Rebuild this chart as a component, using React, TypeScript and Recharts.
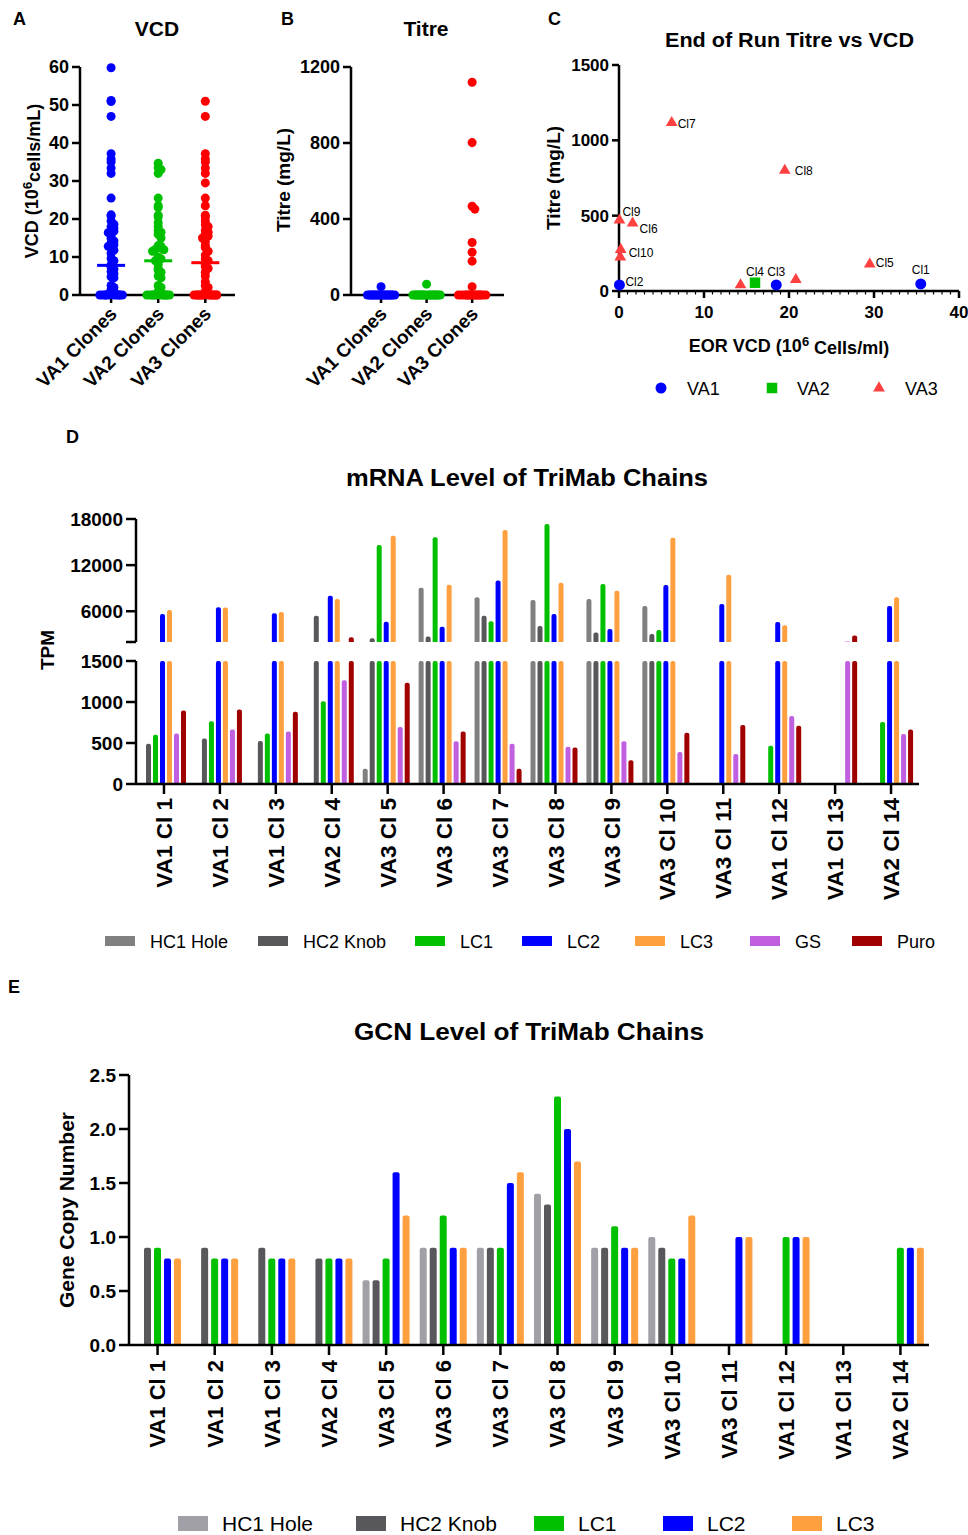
import React from 'react';
import {
  ScatterChart, Scatter, XAxis, YAxis, ZAxis,
  BarChart, Bar, Symbols,
} from 'recharts';

const FONT = '"Liberation Sans", Arial, Helvetica, sans-serif';

// ---------- A / B : clone strip plots ----------
const cloneGroups = ['VA1 Clones', 'VA2 Clones', 'VA3 Clones'];
const groupColors = ['#0000ff', '#00c000', '#ff0000'];

const vcdVA1 = [59.8, 51.2, 50.9, 47, 37.2, 35.8, 35, 33.4, 32, 25.5, 21.1, 20.8, 19.5, 18.6, 18, 17.6, 17.1, 16.8, 16.4, 15.6, 14.9, 14.2, 13.6, 13.2, 12.8, 12.4, 11.8, 11, 9.6, 9, 8, 7.4, 6.8, 6.2, 5.6, 4.8, 4.5, 2.5, 2, 1.4, 0.8, 0.5, 0.3, 0.2, 0.1, 0, 0, 0, 0, 0, 0, 0, 0, 0, 0];
const vcdVA2 = [34.7, 33.5, 33, 32, 25.5, 23.5, 23, 21, 20.5, 19, 18, 17, 16.5, 16, 15, 13, 12.8, 12.5, 12.4, 12, 11.9, 11.5, 10, 9.5, 9, 8, 7, 6.5, 6, 5, 4.5, 2.5, 2, 1, 0.5, 0.3, 0, 0, 0, 0, 0, 0, 0, 0, 0, 0, 0, 0];
const vcdVA3 = [51, 47, 37.2, 35.8, 35, 33.4, 32, 29.5, 25.5, 23.5, 21, 20.5, 19.5, 18.5, 18, 17, 16.5, 16, 15.5, 15, 14, 13, 12.5, 11.5, 10.5, 9.5, 9, 8, 7.5, 7, 6, 5, 3.5, 2.5, 2, 1, 0.5, 0.3, 0, 0, 0, 0, 0, 0, 0, 0, 0, 0, 0, 0, 0, 0];
const vcdMedians = [7.8, 9.0, 8.5];

const titreVA1 = [44, 0, 0, 0, 0, 0, 0, 0, 0, 0, 0, 0, 0, 0, 0, 0, 0, 0, 0, 0];
const titreVA2 = [57, 0, 0, 0, 0, 0, 0, 0, 0, 0, 0, 0, 0, 0, 0, 0, 0, 0, 0, 0];
const titreVA3 = [1120, 802, 467, 452, 276, 225, 178, 44, 0, 0, 0, 0, 0, 0, 0, 0, 0, 0, 0, 0, 0, 0, 0, 0];
const titreMedians = [0, 0, 0];

// ---------- C : end of run titre vs VCD ----------
const eorVA1Labels = ['Cl1', 'Cl2', 'Cl3'];
const eorVA1Vcd = [35.5, 0.05, 18.5];
const eorVA1Titre = [47, 40, 40];
const eorVA2Labels = ['Cl4'];
const eorVA2Vcd = [16];
const eorVA2Titre = [55];
const eorVA3Labels = ['Cl5', 'Cl6', 'Cl7', 'Cl8', 'Cl9', 'Cl10', '', '', ''];
const eorVA3Vcd = [29.5, 1.6, 6.2, 19.5, 0.05, 0.2, 0.15, 14.3, 20.8];
const eorVA3Titre = [178, 450, 1117, 800, 470, 275, 225, 40, 75];

// ---------- D / E : per-clone chains ----------
const clones = ['VA1 Cl 1', 'VA1 Cl 2', 'VA1 Cl 3', 'VA2 Cl 4', 'VA3 Cl 5', 'VA3 Cl 6', 'VA3 Cl 7', 'VA3 Cl 8', 'VA3 Cl 9', 'VA3 Cl 10', 'VA3 Cl 11', 'VA1 Cl 12', 'VA1 Cl 13', 'VA2 Cl 14'];

const mrnaSeries = ['HC1 Hole', 'HC2 Knob', 'LC1', 'LC2', 'LC3', 'GS', 'Puro'];
const mrnaColors = ['#808080', '#58585c', '#00c000', '#0000ff', '#ffa040', '#c060e0', '#a00000'];
const mrnaHC1 = [0, 0, 0, 0, 185, 9070, 7820, 7470, 7600, 6690, 0, 0, 0, 0];
const mrnaHC2 = [490, 555, 525, 5430, 2490, 2700, 5430, 4090, 3220, 3050, 0, 0, 0, 0];
const mrnaLC1 = [600, 765, 615, 1010, 14620, 15620, 4700, 17350, 9550, 3570, 0, 465, 0, 755];
const mrnaLC2 = [5650, 6520, 5740, 8030, 4650, 4000, 10000, 5650, 3700, 9420, 6950, 4610, 0, 6690];
const mrnaLC3 = [6170, 6500, 5910, 7600, 15830, 9460, 16570, 9720, 8680, 15570, 10760, 4180, 0, 7820];
const mrnaGS = [615, 665, 640, 1265, 695, 520, 490, 455, 520, 390, 365, 830, 2080, 610];
const mrnaPuro = [895, 910, 880, 2620, 1235, 640, 185, 445, 290, 625, 720, 710, 2830, 665];
const mrnaValues = [mrnaHC1, mrnaHC2, mrnaLC1, mrnaLC2, mrnaLC3, mrnaGS, mrnaPuro];
const BREAK_LOW = 1500;
const BREAK_HIGH = 2000;

const gcnSeries = ['HC1 Hole', 'HC2 Knob', 'LC1', 'LC2', 'LC3'];
const gcnColors = ['#a0a0a6', '#58585c', '#00c000', '#0000ff', '#ffa040'];
const gcnHC1 = [0, 0, 0, 0, 0.6, 0.9, 0.9, 1.4, 0.9, 1.0, 0, 0, 0, 0];
const gcnHC2 = [0.9, 0.9, 0.9, 0.8, 0.6, 0.9, 0.9, 1.3, 0.9, 0.9, 0, 0, 0, 0];
const gcnLC1 = [0.9, 0.8, 0.8, 0.8, 0.8, 1.2, 0.9, 2.3, 1.1, 0.8, 0, 1.0, 0, 0.9];
const gcnLC2 = [0.8, 0.8, 0.8, 0.8, 1.6, 0.9, 1.5, 2.0, 0.9, 0.8, 1.0, 1.0, 0, 0.9];
const gcnLC3 = [0.8, 0.8, 0.8, 0.8, 1.2, 0.9, 1.6, 1.7, 0.9, 1.2, 1.0, 1.0, 0, 0.9];
const gcnValues = [gcnHC1, gcnHC2, gcnLC1, gcnLC2, gcnLC3];

// ---------- helpers ----------
const axisLine = { stroke: '#000', strokeWidth: 2.5 };
const tickLine = { stroke: '#000', strokeWidth: 2.5 };
const tickFont = (fs: number) => ({ fill: '#000', fontSize: fs, fontWeight: 700, fontFamily: FONT });

// GraphPad-like spreading of tied points
function stripPoints(values: number[], group: number, bin: number, step: number, maxK: number) {
  const seen: Record<number, number> = {};
  return values.map((v) => {
    const k = Math.round(v / bin);
    const n = seen[k] ?? 0;
    seen[k] = n + 1;
    const ring = n === 0 ? 0 : ((Math.ceil(n / 2) - 1) % maxK) + 1;
    const side = n % 2 === 1 ? 1 : -1;
    return { x: group + side * ring * step, y: v };
  });
}

const DiagTick = (props: any) => {
  const { x, y, payload } = props;
  return (
    <text
      transform={`translate(${x + 7},${y + 12}) rotate(-45)`}
      textAnchor="end"
      fontSize={19}
      fontWeight={700}
      fontFamily={FONT}
      fill="#000"
    >
      {cloneGroups[payload.value]}
    </text>
  );
};

const VertTick = (fs: number) => (props: any) => {
  const { x, y, payload } = props;
  return (
    <text
      transform={`translate(${x},${y}) rotate(-90)`}
      textAnchor="end"
      dy="0.36em"
      fontSize={fs}
      fontWeight={700}
      fontFamily={FONT}
      fill="#000"
    >
      {payload.value}
    </text>
  );
};

const MinorTick = (props: any) => {
  const { x, y, payload } = props;
  const major = payload.value % 10 === 0;
  return (
    <g>
      <line x1={x} x2={x} y1={y} y2={y + (major ? 7 : 3.5)} stroke="#000" strokeWidth={major ? 2.5 : 1.2} />
      {major && (
        <text x={x} y={y + 27} textAnchor="middle" fontSize={17} fontWeight={700} fontFamily={FONT} fill="#000">
          {payload.value}
        </text>
      )}
    </g>
  );
};

const medianShape = (color: string) => (props: any) => {
  const { cx, cy } = props;
  return <line x1={cx - 14} x2={cx + 14} y1={cy} y2={cy} stroke={color} strokeWidth={3} />;
};

function StripChart(props: {
  left: number; width: number; yWidth: number; right: number;
  groups: number[][]; medians: number[]; domain: [number, number]; ticks: number[];
  xDomain: [number, number]; bin: number; step: number; maxK: number;
}) {
  const { left, width, yWidth, right, groups, medians, domain, ticks, xDomain, bin, step, maxK } = props;
  return (
    <ScatterChart
      width={width}
      height={400}
      margin={{ top: 67, right, bottom: 5, left: 0 }}
      style={{ position: 'absolute', left, top: 0 }}
    >
      <XAxis
        type="number"
        dataKey="x"
        domain={xDomain}
        ticks={[0, 1, 2]}
        interval={0}
        height={100}
        axisLine={axisLine}
        tickLine={tickLine}
        tickSize={8}
        tickMargin={0}
        tick={DiagTick}
      />
      <YAxis
        type="number"
        dataKey="y"
        domain={domain}
        ticks={ticks}
        interval={0}
        width={yWidth}
        axisLine={axisLine}
        tickLine={tickLine}
        tickSize={8}
        tickMargin={3}
        tick={tickFont(18)}
      />
      <ZAxis range={[24, 24]} />
      {groups.map((vals, g) => (
        <Scatter
          key={g}
          data={stripPoints(vals, g, bin, step, maxK)}
          fill={groupColors[g]}
          isAnimationActive={false}
        />
      ))}
      {medians.map((m, g) => (
        <Scatter
          key={`m${g}`}
          data={[{ x: g, y: m }]}
          shape={medianShape(groupColors[g])}
          isAnimationActive={false}
        />
      ))}
    </ScatterChart>
  );
}

// label placement (layout only)
const labelOffset: Record<string, [number, number, 'start' | 'middle']> = {
  Cl1: [0, -14, 'middle'],
  Cl2: [6, -3, 'start'],
  Cl3: [0, -13, 'middle'],
  Cl4: [0, -11, 'middle'],
  Cl5: [6, -1, 'start'],
  Cl6: [7, 6, 'start'],
  Cl7: [6, 1, 'start'],
  Cl8: [10, 1, 'start'],
  Cl9: [3, -8, 'start'],
  Cl10: [8, 3, 'start'],
};

const eorShape = (type: 'circle' | 'square' | 'triangle', size: number, color: string) => (props: any) => {
  const { cx, cy, payload } = props;
  const off = labelOffset[payload.label];
  return (
    <g>
      <Symbols cx={cx} cy={cy} type={type} size={size} fill={color} />
      {payload.label && off && (
        <text
          x={cx + off[0]}
          y={cy + off[1]}
          textAnchor={off[2]}
          dominantBaseline="central"
          fontSize={12}
          fontFamily={FONT}
          fill="#000"
        >
          {payload.label}
        </text>
      )}
    </g>
  );
};

const zip = (labels: string[], xs: number[], ys: number[]) =>
  labels.map((label, i) => ({ label, x: xs[i], y: ys[i] }));

const mrnaRows = clones.map((clone, i) => {
  const hi: Record<string, any> = { clone };
  const lo: Record<string, any> = { clone };
  mrnaSeries.forEach((s, j) => {
    const v = mrnaValues[j][i];
    hi[s] = v >= BREAK_HIGH ? v : null;
    lo[s] = v > 0 ? Math.min(v, BREAK_LOW) : null;
  });
  return { hi, lo };
});
const mrnaHigh = mrnaRows.map((r) => r.hi);
const mrnaLow = mrnaRows.map((r) => r.lo);

const gcnRows = clones.map((clone, i) => {
  const row: Record<string, any> = { clone };
  gcnSeries.forEach((s, j) => {
    const v = gcnValues[j][i];
    row[s] = v > 0 ? v : null;
  });
  return row;
});

const bold = { fontWeight: 700, fontFamily: FONT, fill: '#000' } as const;

function Rot({ x, y, fs, children }: { x: number; y: number; fs: number; children: React.ReactNode }) {
  return (
    <text transform={`translate(${x},${y}) rotate(-90)`} textAnchor="middle" fontSize={fs} {...bold}>
      {children}
    </text>
  );
}

export default function App() {
  const mrnaLegendX = [105, 258, 415, 522, 635, 750, 852];
  const gcnLegendX = [178, 356, 534, 663, 792];
  return (
    <div style={{ position: 'absolute', left: 0, top: 0, width: 968, height: 1535, background: '#fff', fontFamily: FONT }}>
      {/* A */}
      <StripChart
        left={0} width={250} yWidth={80} right={15}
        groups={[vcdVA1, vcdVA2, vcdVA3]} medians={vcdMedians}
        domain={[0, 60]} ticks={[0, 10, 20, 30, 40, 50, 60]}
        xDomain={[-0.66, 2.63]} bin={1.2} step={0.06} maxK={4}
      />
      {/* B */}
      <StripChart
        left={260} width={260} yWidth={91} right={16}
        groups={[titreVA1, titreVA2, titreVA3]} medians={titreMedians}
        domain={[0, 1200]} ticks={[0, 400, 800, 1200]}
        xDomain={[-0.66, 2.7]} bin={20} step={0.06} maxK={5}
      />
      {/* C */}
      <ScatterChart
        width={428}
        height={370}
        margin={{ top: 65, right: 9, bottom: 5, left: 0 }}
        style={{ position: 'absolute', left: 540, top: 0 }}
      >
        <XAxis
          type="number"
          dataKey="x"
          domain={[0, 40]}
          ticks={Array.from({ length: 41 }, (_, i) => i)}
          interval={0}
          height={74}
          axisLine={axisLine}
          tickLine={false}
          tickSize={0}
          tickMargin={0}
          tick={MinorTick}
        />
        <YAxis
          type="number"
          dataKey="y"
          domain={[0, 1500]}
          ticks={[0, 500, 1000, 1500]}
          interval={0}
          width={79}
          axisLine={axisLine}
          tickLine={tickLine}
          tickSize={7}
          tickMargin={3}
          tick={tickFont(17)}
        />
        <Scatter data={zip(eorVA3Labels, eorVA3Vcd, eorVA3Titre)} shape={eorShape('triangle', 60, '#ff4040')} isAnimationActive={false} />
        <Scatter data={zip(eorVA2Labels, eorVA2Vcd, eorVA2Titre)} shape={eorShape('square', 110, '#00c000')} isAnimationActive={false} />
        <Scatter data={zip(eorVA1Labels, eorVA1Vcd, eorVA1Titre)} shape={eorShape('circle', 95, '#0000ff')} isAnimationActive={false} />
      </ScatterChart>

      {/* D upper */}
      <BarChart
        width={968}
        height={138}
        data={mrnaHigh}
        margin={{ top: 10, right: 49, bottom: 5, left: 0 }}
        barCategoryGap={3}
        barGap={2}
        style={{ position: 'absolute', left: 0, top: 509 }}
      >
        <XAxis dataKey="clone" hide />
        <YAxis
          type="number"
          domain={[BREAK_HIGH, 18000]}
          ticks={[BREAK_HIGH, 6000, 12000, 18000]}
          tickFormatter={(v: number) => (v === BREAK_HIGH ? '' : String(v))}
          interval={0}
          allowDataOverflow
          width={136}
          axisLine={axisLine}
          tickLine={tickLine}
          tickSize={10}
          tickMargin={3}
          tick={tickFont(19)}
        />
        {mrnaSeries.map((s, j) => (
          <Bar key={s} dataKey={s} fill={mrnaColors[j]} radius={[2, 2, 0, 0]} isAnimationActive={false} />
        ))}
      </BarChart>
      {/* D lower */}
      <BarChart
        width={968}
        height={263}
        data={mrnaLow}
        margin={{ top: 10, right: 49, bottom: 5, left: 0 }}
        barCategoryGap={3}
        barGap={2}
        style={{ position: 'absolute', left: 0, top: 651 }}
      >
        <XAxis
          dataKey="clone"
          interval={0}
          height={125}
          axisLine={axisLine}
          tickLine={tickLine}
          tickSize={10}
          tickMargin={4}
          tick={VertTick(22.5)}
        />
        <YAxis
          type="number"
          domain={[0, BREAK_LOW]}
          ticks={[0, 500, 1000, 1500]}
          interval={0}
          allowDataOverflow
          width={136}
          axisLine={axisLine}
          tickLine={tickLine}
          tickSize={10}
          tickMargin={3}
          tick={tickFont(19)}
        />
        {mrnaSeries.map((s, j) => (
          <Bar key={s} dataKey={s} fill={mrnaColors[j]} radius={[2, 2, 0, 0]} isAnimationActive={false} />
        ))}
      </BarChart>

      {/* E */}
      <BarChart
        width={968}
        height={420}
        data={gcnRows}
        margin={{ top: 10, right: 39, bottom: 5, left: 0 }}
        barCategoryGap={5}
        barGap={3}
        style={{ position: 'absolute', left: 0, top: 1065 }}
      >
        <XAxis
          dataKey="clone"
          interval={0}
          height={135}
          axisLine={axisLine}
          tickLine={tickLine}
          tickSize={10}
          tickMargin={5}
          tick={VertTick(22)}
        />
        <YAxis
          type="number"
          domain={[0, 2.5]}
          ticks={[0, 0.5, 1, 1.5, 2, 2.5]}
          tickFormatter={(v: number) => v.toFixed(1)}
          interval={0}
          width={129}
          axisLine={axisLine}
          tickLine={tickLine}
          tickSize={10}
          tickMargin={3}
          tick={tickFont(19)}
        />
        {gcnSeries.map((s, j) => (
          <Bar key={s} dataKey={s} fill={gcnColors[j]} radius={[2, 2, 0, 0]} isAnimationActive={false} />
        ))}
      </BarChart>

      {/* titles, axis titles, legends */}
      <svg width={968} height={1535} style={{ position: 'absolute', left: 0, top: 0, pointerEvents: 'none' }}>
        <text x={13} y={25} fontSize={18} {...bold}>A</text>
        <text x={281} y={25} fontSize={18} {...bold}>B</text>
        <text x={548} y={25} fontSize={18} {...bold}>C</text>
        <text x={66} y={443} fontSize={18} {...bold}>D</text>
        <text x={8} y={993} fontSize={18} {...bold}>E</text>

        <text x={157} y={36} textAnchor="middle" fontSize={21} {...bold}>VCD</text>
        <text x={426} y={36} textAnchor="middle" fontSize={21} {...bold}>Titre</text>
        <text x={665} y={47} fontSize={20} textLength={249} lengthAdjust="spacingAndGlyphs" {...bold}>End of Run Titre vs VCD</text>
        <text x={346} y={486} fontSize={23} textLength={362} lengthAdjust="spacingAndGlyphs" {...bold}>mRNA Level of TriMab Chains</text>
        <text x={354} y={1040} fontSize={23} textLength={350} lengthAdjust="spacingAndGlyphs" {...bold}>GCN Level of TriMab Chains</text>

        <Rot x={38} y={181} fs={18}>
          <tspan>VCD (10</tspan>
          <tspan dy="-0.45em" fontSize={13}>6</tspan>
          <tspan dy="0.45em">cells/mL)</tspan>
        </Rot>
        <Rot x={290} y={180} fs={19}>Titre (mg/L)</Rot>
        <Rot x={560} y={178} fs={19}>Titre (mg/L)</Rot>
        <text x={789} y={352} textAnchor="middle" fontSize={18} {...bold}>
          <tspan>EOR VCD (10</tspan>
          <tspan dy="-0.45em" fontSize={13}>6</tspan>
          <tspan dy="0.45em"> Cells/ml)</tspan>
        </text>
        <Rot x={54} y={650} fs={19}>TPM</Rot>
        <Rot x={74} y={1210} fs={21}>Gene Copy Number</Rot>

        {/* C legend */}
        <Symbols cx={661} cy={388} type="circle" size={95} fill="#0000ff" />
        <text x={687} y={395} fontSize={18} fontFamily={FONT}>VA1</text>
        <Symbols cx={772} cy={388} type="square" size={110} fill="#00c000" />
        <text x={797} y={395} fontSize={18} fontFamily={FONT}>VA2</text>
        <Symbols cx={879} cy={388} type="triangle" size={60} fill="#ff4040" />
        <text x={905} y={395} fontSize={18} fontFamily={FONT}>VA3</text>

        {/* D legend */}
        {mrnaSeries.map((s, j) => (
          <g key={s}>
            <rect x={mrnaLegendX[j]} y={936} width={30} height={10} fill={mrnaColors[j]} />
            <text x={mrnaLegendX[j] + 45} y={948} fontSize={18} fontFamily={FONT}>{s}</text>
          </g>
        ))}
        {/* E legend */}
        {gcnSeries.map((s, j) => (
          <g key={s}>
            <rect x={gcnLegendX[j]} y={1516} width={30} height={15} fill={gcnColors[j]} />
            <text x={gcnLegendX[j] + 44} y={1531} fontSize={21} fontFamily={FONT}>{s}</text>
          </g>
        ))}
      </svg>
    </div>
  );
}
